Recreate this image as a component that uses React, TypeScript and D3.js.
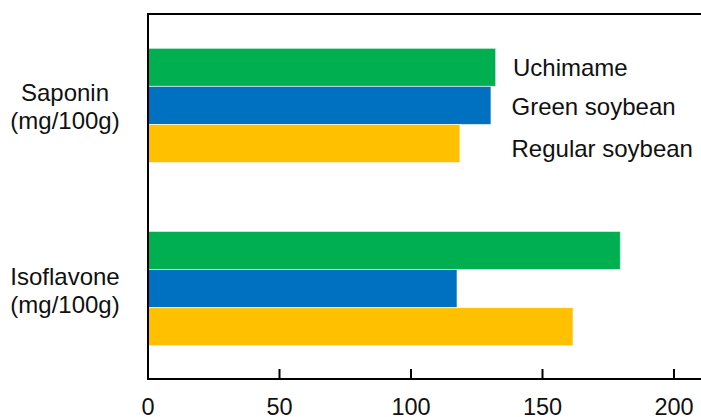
import React from "react";
import * as d3 from "d3";

const categories = ["Saponin", "Isoflavone"];
const categoryLines = [["Saponin", "(mg/100g)"], ["Isoflavone", "(mg/100g)"]];
const seriesNames = ["Uchimame", "Green soybean", "Regular soybean"];
const seriesColors = ["#00B050", "#0070C0", "#FFC000"];
const uchimame = [132.2, 179.6];
const greenSoybean = [130.4, 117.5];
const regularSoybean = [118.6, 161.6];
const xTicks = [0, 50, 100, 150, 200];

const seriesValues = [uchimame, greenSoybean, regularSoybean];

export default function App() {
  const W = 701, H = 417;
  const x0 = 148, x1 = 674;
  const axisY = 379, topY = 14;
  const x = d3.scaleLinear().domain([0, 200]).range([x0, x1]);
  const y = d3.scaleBand().domain(categories).range([48.3, 345.7]).paddingInner(0.376).paddingOuter(0);
  const ySub = d3.scaleBand().domain(seriesNames).range([0, y.bandwidth()]).padding(0);
  const font = "'Liberation Sans', Arial, sans-serif";
  const legendOffsets = [8.7, 9.8, 13];

  return (
    <svg width={W} height={H} style={{ position: "absolute", left: 0, top: 0, background: "#fff" }} fontFamily={font}>
      {categories.map((c, ci) =>
        seriesNames.map((s, si) => (
          <rect
            key={c + s}
            x={x(0)}
            y={(y(c) as number) + (ySub(s) as number)}
            width={x(seriesValues[si][ci]) - x(0)}
            height={ySub.bandwidth()}
            fill={seriesColors[si]}
            stroke="#ffffff"
            strokeOpacity={0.6}
            strokeWidth={1}
          />
        ))
      )}
      <line x1={x0} x2={W} y1={topY} y2={topY} stroke="#000" strokeWidth={2} />
      <line x1={x0} x2={x0} y1={topY - 1} y2={axisY + 1} stroke="#000" strokeWidth={2} />
      <line x1={x0 - 1} x2={W} y1={axisY} y2={axisY} stroke="#000" strokeWidth={2} />
      {xTicks.map((t) => (
        <g key={t}>
          {t !== 0 && <line x1={x(t)} x2={x(t)} y1={axisY - 10} y2={axisY} stroke="#000" strokeWidth={2} />}
          <text x={x(t)} y={415} textAnchor="middle" fontSize={23.5} fill="#111">{t}</text>
        </g>
      ))}
      {categories.map((c, ci) => {
        const cy = (y(c) as number) + y.bandwidth() / 2;
        return (
          <g key={c}>
            <text x={65} y={cy - 4} textAnchor="middle" fontSize={24} fill="#111">{categoryLines[ci][0]}</text>
            <text x={65} y={cy + 24} textAnchor="middle" fontSize={24} fill="#111">{categoryLines[ci][1]}</text>
          </g>
        );
      })}
      {seriesNames.map((s, si) => {
        const cy = (y(categories[0]) as number) + (ySub(s) as number) + ySub.bandwidth() / 2;
        return (
          <text key={s} x={si === 0 ? 513 : 511.5} y={cy + legendOffsets[si]} fontSize={24} fill="#111">{s}</text>
        );
      })}
    </svg>
  );
}
